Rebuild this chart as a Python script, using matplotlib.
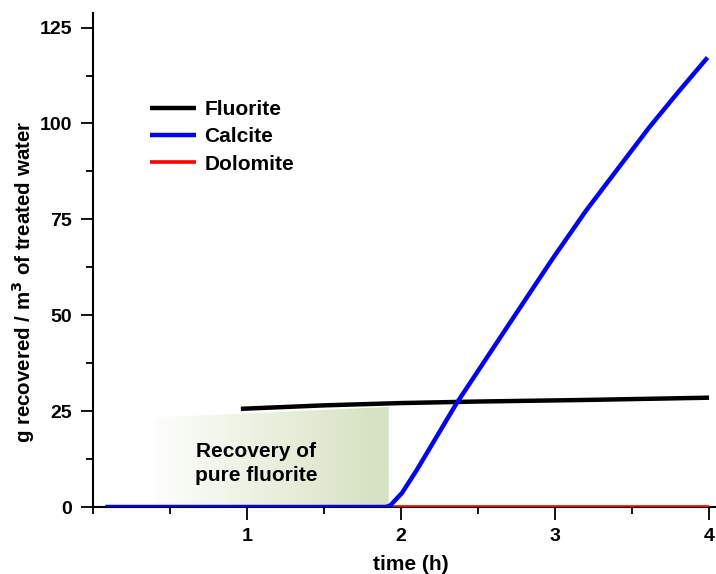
import numpy as np
import matplotlib.pyplot as plt
from matplotlib.patches import Polygon
from matplotlib.colors import LinearSegmentedColormap
from matplotlib.ticker import MultipleLocator

plt.rcParams['font.family'] = ['Liberation Sans', 'DejaVu Sans']
plt.rcParams['font.weight'] = 'bold'

# recovered mass (g per m3 of treated water) vs time (h)
t_fluorite = [0.96, 1.5, 2.0, 2.5, 3.18, 4.0]
fluorite = [25.6, 26.5, 27.1, 27.5, 27.9, 28.5]

t_calcite = [0.08, 1.90, 1.93, 2.006, 2.1, 2.36, 2.72, 2.98, 3.2, 3.4, 3.61, 3.8, 3.99]
calcite = [0.0, 0.0, 0.4, 3.65, 9.5, 27.0, 48.8, 64.5, 77.2, 87.8, 98.9, 108.2, 117.2]

t_dolomite = [1.95, 4.0]
dolomite = [0.0, 0.0]

# shaded window where only fluorite is recovered
shade_t = [0.34, 1.92]
shade_top = [23.2, 26.1]

size = 15
tic_size = 14

fig = plt.figure(figsize=(7.16, 5.74), dpi=100)
ax = fig.add_axes([93 / 716, 1 - 507 / 574, 623 / 716, 494 / 574])

# green gradient clipped to the shaded polygon
cmap = LinearSegmentedColormap.from_list('shade', ['#ffffff', '#d5e1bf'])
grad = np.linspace(0, 1, 256).reshape(1, -1)
poly = Polygon([(shade_t[0], 0), (shade_t[0], shade_top[0]),
                (shade_t[1], shade_top[1]), (shade_t[1], 0)],
               closed=True, facecolor='none', edgecolor='none')
ax.add_patch(poly)
im = ax.imshow(grad, cmap=cmap, aspect='auto', interpolation='bilinear',
               extent=[shade_t[0], shade_t[1], 0, max(shade_top)], zorder=1)
im.set_clip_path(poly)

ax.text(1.06, 11.4, 'Recovery of\npure fluorite', fontsize=15, fontweight='bold',
        ha='center', va='center', linespacing=1.3, zorder=2)

ax.plot(t_fluorite, fluorite, color='black', lw=3.2, label='Fluorite', zorder=3,
        solid_capstyle='butt')
ax.plot(t_calcite, calcite, color='#0000ff', lw=3.2, label='Calcite', zorder=4,
        solid_capstyle='butt', solid_joinstyle='round')
ax.plot(t_dolomite, dolomite, color='#ff0000', lw=2.6, label='Dolomite', zorder=3,
        solid_capstyle='butt')

ax.set_xlim(0, 4.045)
ax.set_ylim(0, 128.8)
ax.xaxis.set_major_locator(MultipleLocator(1))
ax.xaxis.set_minor_locator(MultipleLocator(0.5))
ax.yaxis.set_major_locator(MultipleLocator(25))
ax.yaxis.set_minor_locator(MultipleLocator(12.5))
ax.set_xticks([1, 2, 3, 4])

ax.spines['top'].set_visible(False)
ax.spines['right'].set_visible(False)
ax.spines['left'].set_linewidth(1.5)
ax.spines['bottom'].set_linewidth(1.5)
ax.tick_params(which='major', length=9, width=1.3, labelsize=tic_size,
               direction='out', pad=6)
ax.tick_params(which='minor', length=5, width=1.3, direction='out')

ax.set_xlabel('time (h)', fontsize=size, fontweight='bold')
ax.xaxis.set_label_coords(0.51, -0.097)
ax.set_ylabel('g recovered / m$^\\mathbf{3}$ of treated water', fontsize=14.8,
              fontweight='bold')
ax.yaxis.set_label_coords(-0.09, 0.455)

ax.legend(loc='upper left', bbox_to_anchor=(0.062, 0.862), frameon=False,
          handlelength=2.2, handletextpad=0.4, labelspacing=0.4,
          prop={'weight': 'bold', 'size': 15})

fig.savefig('out.png', dpi=100)
